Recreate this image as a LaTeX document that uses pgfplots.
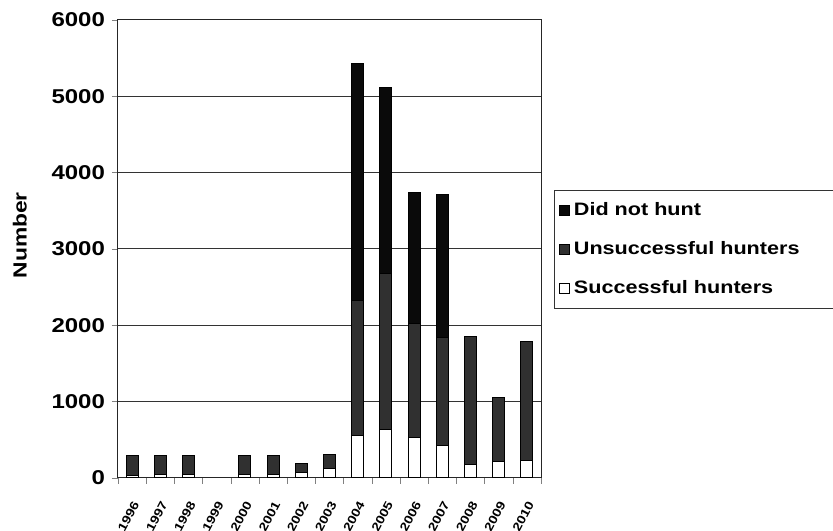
\documentclass[border=0pt]{standalone}
\usepackage{fontspec}
\setmainfont{Liberation Sans}[FakeStretch=1.2]
\usepackage{pgfplots}
\usepackage{pgfplotstable}
\pgfplotsset{compat=1.18}
\definecolor{dnh}{HTML}{0A0A0A}
\definecolor{uns}{HTML}{303030}
\pgfplotstableread{
x s u d
0 30 260 0
1 40 260 0
2 40 260 0
3 0 0 0
4 40 260 0
5 40 260 0
6 70 120 0
7 120 190 0
8 560 1770 3100
9 640 2040 2440
10 530 1500 1710
11 430 1410 1880
12 180 1670 0
13 220 830 0
14 230 1560 0
}\data
\begin{document}
\begin{tikzpicture}
\begin{axis}[name=ax, scale only axis, width=211.5pt, height=229pt,
  ybar stacked, bar width=0.42,
  xmin=-0.5, xmax=14.5, ymin=0, ymax=6000,
  xtick={0,...,14},
  xticklabels={1996,1997,1998,1999,2000,2001,2002,2003,2004,2005,2006,2007,2008,2009,2010},
  major x tick style={draw=none},
  minor xtick={-0.5,0.5,...,14.5},
  minor tick length=3pt, major tick length=3pt,
  ytick={0,1000,...,6000},
  ymajorgrids, grid style={black!80, line width=0.5pt},
  tick align=outside, tick pos=left,
  axis line style={black!85, line width=0.5pt},
  /pgf/number format/assume math mode=true,
  /pgf/number format/set thousands separator={},
  yticklabel style={font=\fontsize{10}{12}\selectfont\bfseries},
  xticklabel style={xshift=2.5pt, yshift=-8pt, rotate=62, anchor=east, font=\fontsize{6}{7}\selectfont\bfseries, inner sep=1pt},
  ylabel={Number},
  ylabel style={at={(axis description cs:-0.232,0.53)}, anchor=center, font=\fontsize{9.5}{11}\selectfont\bfseries},
  legend image code/.code={\draw[#1] (0pt,-2.6pt) rectangle (5.2pt,2.6pt);},
  reverse legend,
  legend cell align=left,
  legend style={at={(1.031,0.629)}, anchor=north west, draw=black!80, line width=0.4pt,
    font=\fontsize{9}{11}\selectfont\bfseries, row sep=7.5pt, inner xsep=2pt, inner ysep=4pt,
    /tikz/every even column/.append style={text width=128pt}},
]
\addplot[fill=white, draw=black, line width=0.5pt] table[x=x,y=s]{\data};
\addlegendentry{Successful hunters}
\addplot[fill=uns, draw=black, line width=0.5pt] table[x=x,y=u]{\data};
\addlegendentry{Unsuccessful hunters}
\addplot[fill=dnh, draw=black, line width=0.5pt] table[x=x,y=d]{\data};
\addlegendentry{Did not hunt}
\end{axis}
\pgfresetboundingbox
\path[use as bounding box] ([shift={(-59pt,-26.5pt)}]ax.south west) rectangle ([shift={(146pt,10pt)}]ax.north east);
\end{tikzpicture}
\end{document}
